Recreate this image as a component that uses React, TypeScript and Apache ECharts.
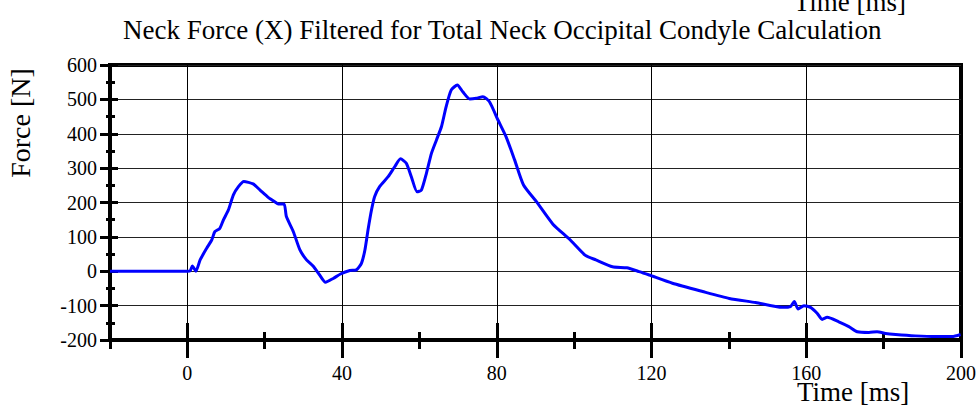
import React, { useEffect, useRef } from "react";
import * as echarts from "echarts";

const chartTitle = "Neck Force (X) Filtered for Total Neck Occipital Condyle Calculation";
const xAxisTitle = "Time [ms]";
const yAxisTitle = "Force [N]";

const timeMs = [
  -20, -10, 0, 0.7, 1.3, 2.2, 3.3, 5.0, 6.3, 7.1, 8.4, 9.3, 10.6, 11.9, 13.2, 14.6,
  17.0, 18.8, 20.9, 22.6, 23.5, 25.0, 25.6, 27.4, 29.1, 30.8, 32.5, 34.2, 35.7, 37.7,
  39.6, 42.0, 43.7, 45.0, 45.9, 46.7, 47.6, 48.4, 49.7, 51.9, 53.6, 55.1, 56.6, 57.9,
  59.4, 60.5, 61.8, 63.1, 64.4, 65.7, 66.9, 68.2, 69.8, 71.2, 73.0, 74.7, 76.4, 78.1,
  80.3, 82.4, 84.6, 86.9, 90.2, 94.5, 98.8, 102.8, 105.6, 109.9, 113.6, 116.8, 119.4,
  125.4, 133.2, 140.1, 146.9, 153.8, 155.9, 156.9, 157.9, 159.4, 161.1, 162.8, 164.1,
  165.4, 168.4, 171.0, 173.2, 176.2, 178.3, 180.5, 183.1, 188.2, 193.4, 197.7, 199.9,
];
const forceN = [
  0, 0, 0, 1, 15, 0, 33, 67, 91, 115, 125, 149, 178, 222, 246, 261,
  254, 236, 215, 202, 196, 196, 159, 115, 62, 33, 15, -11, -32, -21,
  -8, 2, 4, 23, 62, 120, 178, 217, 246, 275, 304, 327, 314, 275,
  231, 236, 285, 343, 382, 421, 479, 527, 542, 522, 501, 503, 508, 493,
  440, 391, 324, 251, 203, 137, 93, 47, 33, 13, 10, -1, -11,
  -35, -59, -79, -91, -105, -103, -88, -110, -100, -105, -122, -140,
  -134, -147, -161, -176, -178, -176, -181, -184, -188, -190, -190, -184,
];

const xMajorTicks = [0, 40, 80, 120, 160, 200];
const xMinorTicks = [-20, 20, 60, 100, 140, 180];
const xGridValues = [0, 40, 80, 120, 160];

const FONT = "'Liberation Serif', 'Times New Roman', serif";

export default function App() {
  const ref = useRef<HTMLDivElement>(null);
  useEffect(() => {
    if (!ref.current) return;
    const chart = echarts.init(ref.current, null, { renderer: "svg" });
    const data = timeMs.map((t, i) => [t, forceN[i]]);
    const baseX = {
      type: "value" as const,
      min: -20,
      max: 200,
      position: "bottom" as const,
      splitLine: { show: false },
    };
    const baseY = {
      type: "value" as const,
      min: -200,
      max: 600,
      interval: 100,
      position: "left" as const,
    };
    const hiddenLine = { show: false, onZero: false };
    chart.setOption({
      animation: false,
      backgroundColor: "#ffffff",
      title: {
        text: chartTitle,
        left: 118,
        top: 11,
        textStyle: { fontFamily: FONT, fontSize: 27, fontWeight: "normal", color: "#000" },
      },
      grid: {
        left: 110,
        right: 17,
        top: 65,
        bottom: 68,
        show: true,
        borderColor: "#000",
        borderWidth: 4,
        backgroundColor: "transparent",
      },
      xAxis: [
        {
          ...baseX,
          axisLine: { show: true, onZero: false, lineStyle: { color: "#000", width: 4 } },
          axisTick: { show: true, customValues: xMajorTicks, length: 18, lineStyle: { color: "#000", width: 3 } },
          axisLabel: {
            show: true,
            customValues: xMajorTicks,
            margin: 23,
            fontSize: 20,
            fontFamily: FONT,
            color: "#000",
          },
        },
        {
          ...baseX,
          axisLine: hiddenLine,
          axisTick: { show: true, inside: true, customValues: xMajorTicks, length: 17, lineStyle: { color: "#000", width: 3 } },
          axisLabel: { show: false },
        },
        {
          ...baseX,
          axisLine: hiddenLine,
          axisTick: { show: true, customValues: xMinorTicks, length: 9, lineStyle: { color: "#000", width: 3 } },
          axisLabel: { show: false },
        },
        {
          ...baseX,
          axisLine: hiddenLine,
          axisTick: { show: true, inside: true, customValues: xMinorTicks, length: 8, lineStyle: { color: "#000", width: 3 } },
          axisLabel: { show: false },
        },
      ],
      yAxis: [
        {
          ...baseY,
          axisLine: { show: true, onZero: false, lineStyle: { color: "#000", width: 4 } },
          axisTick: { show: true, length: 10, lineStyle: { color: "#000", width: 3 } },
          minorTick: { show: true, splitNumber: 2, length: 4, lineStyle: { color: "#000", width: 3 } },
          axisLabel: { show: true, margin: 13, fontSize: 20, fontFamily: FONT, color: "#000" },
          splitLine: { show: true, lineStyle: { color: "#222", width: 1 } },
        },
        {
          ...baseY,
          axisLine: hiddenLine,
          axisTick: { show: true, inside: true, length: 8, lineStyle: { color: "#000", width: 3 } },
          minorTick: { show: true, splitNumber: 2, length: 5, lineStyle: { color: "#000", width: 3 } },
          axisLabel: { show: false },
          splitLine: { show: false },
        },
      ],
      graphic: [
        {
          type: "text",
          x: 20,
          y: 123,
          rotation: Math.PI / 2,
          style: { text: yAxisTitle, fontFamily: FONT, fontSize: 28, fill: "#000", align: "center", verticalAlign: "middle" },
        },
        {
          type: "text",
          x: 797,
          y: 405,
          style: { text: xAxisTitle, fontFamily: FONT, fontSize: 27, fill: "#000", align: "left", verticalAlign: "bottom" },
        },
        {
          type: "text",
          x: 906,
          y: 15,
          style: { text: xAxisTitle, fontFamily: FONT, fontSize: 27, fill: "#000", align: "right", verticalAlign: "bottom" },
        },
      ],
      series: [
        {
          type: "line",
          xAxisIndex: 0,
          yAxisIndex: 0,
          data,
          showSymbol: false,
          smooth: 0.2,
          z: 10,
          lineStyle: { color: "#0000ff", width: 3 },
          markLine: {
            silent: true,
            symbol: "none",
            z: 1,
            label: { show: false },
            lineStyle: { color: "#000", width: 1, type: "solid" },
            data: xGridValues.map((v) => ({ xAxis: v })),
          },
        },
      ],
    });
    return () => chart.dispose();
  }, []);
  return <div ref={ref} style={{ position: "fixed", left: 0, top: 0, width: 979, height: 408 }} />;
}
